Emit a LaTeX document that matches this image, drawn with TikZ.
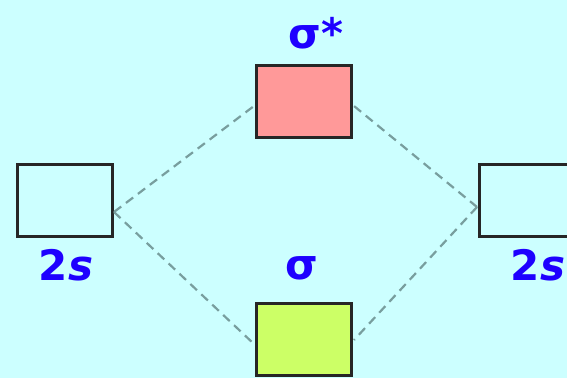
\documentclass[tikz,border=0pt]{standalone}
\usepackage{fontspec}
\setmainfont{DejaVu Sans}
\definecolor{bgc}{RGB}{204,255,255}
\definecolor{dashc}{RGB}{120,158,158}
\definecolor{txtc}{RGB}{30,0,255}
\begin{document}
\begin{tikzpicture}[x=1pt,y=-1pt,
  orb/.style={draw=black!85,line width=3pt,minimum width=95pt,minimum height=72pt,inner sep=0pt},
  conn/.style={draw=dashc,line width=2.2pt,dash pattern=on 9pt off 6pt},
  lbl/.style={text=txtc,font=\bfseries\fontsize{42}{42}\selectfont}]
\fill[bgc] (0,0) rectangle (567,378);
\useasboundingbox (0,0) rectangle (567,378);
\node[orb,fill=bgc] (L) at (64.5,200) {};
\node[orb,fill=bgc,anchor=west] (R) at (478,200) {};
\node[orb,fill={rgb,255:red,255;green,153;blue,153}] (T) at (304,101) {};
\node[orb,fill={rgb,255:red,204;green,255;blue,102}] (B) at (304,339) {};
\coordinate (lm) at (114,212);
\coordinate (rm) at (477,207);
\coordinate (tl) at (254,106);
\coordinate (tr) at (354,106);
\coordinate (bl) at (254,344);
\coordinate (br) at (354,340);
\draw[conn] (lm) -- (tl);
\draw[conn] (lm) -- (bl);
\draw[conn] (rm) -- (tr);
\draw[conn] (rm) -- (br);
\node[lbl] (ts) at (316,33) {σ*};
\node[lbl] (bs) at (302,268) {σ};
\node[lbl] (l2) at (66,265) {2\textit{s}};
\node[lbl] (r2) at (538,265) {2\textit{s}};
\end{tikzpicture}
\end{document}
